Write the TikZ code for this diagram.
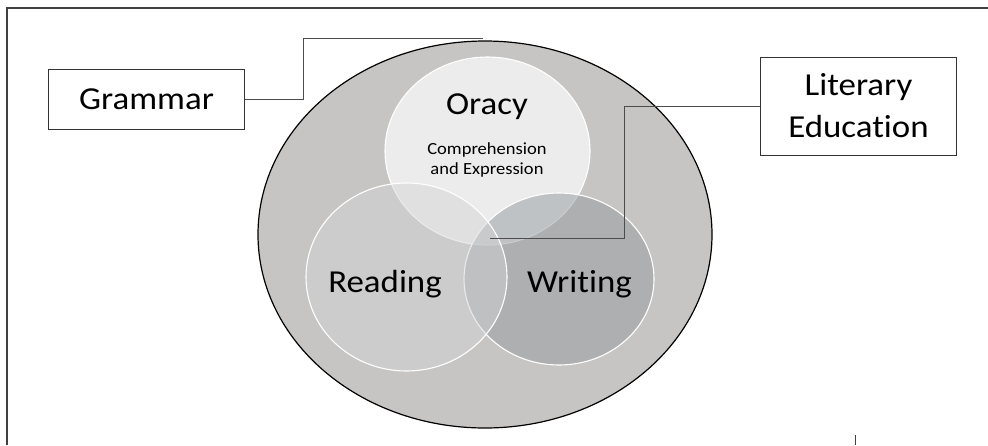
\documentclass[tikz,border=0pt]{standalone}
\usepackage{fontspec}
\setmainfont{Carlito}[Ligatures=NoCommon]
\usetikzlibrary{shapes.geometric, positioning}

\definecolor{shellgray}{RGB}{198,197,195}
\definecolor{oracygray}{RGB}{236,236,236}
\definecolor{writinggray}{RGB}{149,154,158}
\definecolor{readinggray}{RGB}{211,212,214}

\begin{document}
\begin{tikzpicture}[
    x=1pt, y=-1pt,
    zone/.style={ellipse, draw=white, line width=1.1pt, inner sep=0pt},
    tag/.style={font=\fontsize{32}{42}\selectfont, xscale=1.09},
    box/.style={rectangle, draw=black!80, line width=1pt, fill=white, align=center, inner sep=0pt, font=\fontsize{32}{42}\selectfont, xscale=1.09},
    link/.style={draw=black!70, line width=0.9pt}
]
    \useasboundingbox (0,0) rectangle (988,445);
    \draw[black!75, line width=1.2pt] (7,445) -- (7,8) -- (988,8);
    \draw[black!75, line width=0.8pt] (855,435) -- (855,445);

    \node[ellipse, draw=black, line width=1.2pt, fill=shellgray, inner sep=0pt, minimum width=454pt, minimum height=387pt] (shell) at (485,234.5) {};
    \node[zone, fill=oracygray, minimum width=205pt, minimum height=188pt] (oracy) at (487.5,151) {};
    \node[zone, fill=writinggray, fill opacity=0.51, minimum width=190pt, minimum height=172pt] (writing) at (559,279) {};
    \node[zone, fill=readinggray, fill opacity=0.474, minimum width=201pt, minimum height=188pt] (reading) at (406.5,277) {};

    \node[tag, anchor=base] (oracytext) at (487,114) {Oracy};
    \node[font=\fontsize{17}{20}\selectfont, xscale=1.09, align=center] (oracynote) at (487,160) {Comprehension\\and Expression};
    \node[tag, anchor=base] (readingtext) at (385,292) {Reading};
    \node[tag, anchor=base] (writingtext) at (579.5,292) {Writing};

    \node[box, minimum width=179pt, minimum height=60pt] (grammar) at (146.5,99) {Grammar};
    \node[box, minimum width=179pt, minimum height=98pt] (literary) at (858.5,106) {Literary\\Education};

    \coordinate (gtip) at (483,38);
    \coordinate (ltip) at (490,238);
    \draw[link] (grammar.east) -- ++(59,0) |- (gtip);
    \draw[link] (literary.west) -- ++(-136,0) |- (ltip);
\end{tikzpicture}
\end{document}
